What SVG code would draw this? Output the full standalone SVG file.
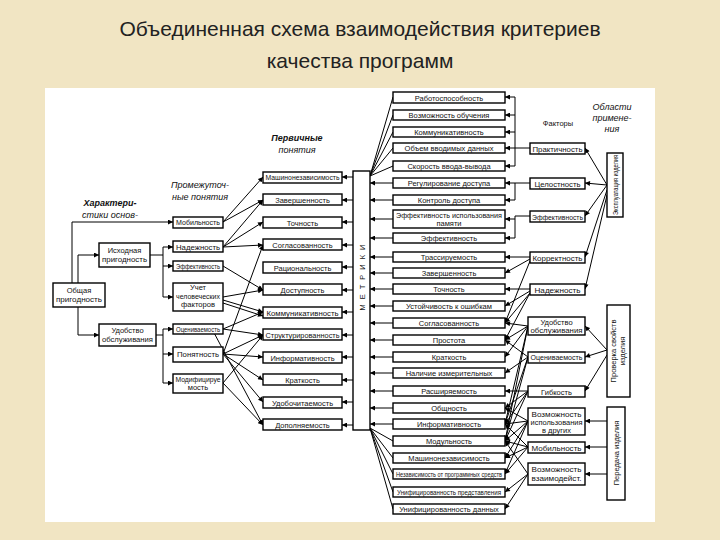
<svg xmlns="http://www.w3.org/2000/svg" width="720" height="540" viewBox="0 0 720 540">
<defs>
<marker id="a" viewBox="0 0 10 10" refX="10" refY="5" markerWidth="6" markerHeight="5" markerUnits="userSpaceOnUse" orient="auto"><path d="M0,0L10,5L0,10z" fill="#000"/></marker>
<style>
.b{fill:#fff;stroke:#000;stroke-width:1.4}
.t{font-family:"Liberation Sans",Arial,sans-serif;font-size:7.5px;fill:#111;text-anchor:middle}
.l{font-family:"Liberation Sans",Arial,sans-serif;font-size:9px;fill:#111;text-anchor:middle;font-style:italic}
#c line,#c polyline{stroke:#000;stroke-width:1;fill:none}
.m{marker-end:url(#a)}
</style>
</defs>
<rect width="720" height="540" fill="#f1e5c3"/>
<rect x="45" y="88" width="610" height="434" fill="#fff"/>
<text x="360" y="36" font-family="Liberation Sans,Arial,sans-serif" font-size="21" text-anchor="middle" fill="#222">Объединенная схема взаимодействия критериев</text>
<text x="360" y="68" font-family="Liberation Sans,Arial,sans-serif" font-size="21" text-anchor="middle" fill="#222">качества программ</text>

<text class="l" x="110" y="206" font-weight="bold">Характери-</text><text class="l" x="110" y="218">стики основ-</text>
<text class="l" x="200" y="188">Промежуточ-</text><text class="l" x="200" y="200">ные понятия</text>
<text class="l" x="297" y="141" font-weight="bold">Первичные</text><text class="l" x="297" y="153">понятия</text>
<text class="t" x="558" y="126" font-size="9">Факторы</text>
<text class="l" x="612" y="110">Области</text><text class="l" x="612" y="121">примене-</text><text class="l" x="612" y="132">ния</text>

<g id="c">
<polyline class="m" points="72,283 72,222 173,222"/>
<polyline class="m" points="78,283 78,255 99,255"/>
<polyline class="m" points="78,307 78,335 99,335"/>
<polyline points="150,255 163,255"/><line x1="163" y1="247" x2="163" y2="297"/>
<line class="m" x1="163" y1="247" x2="173" y2="247"/><line class="m" x1="163" y1="266" x2="173" y2="266"/><line class="m" x1="163" y1="297" x2="173" y2="297"/>
<polyline points="156,335 163,335"/><line x1="163" y1="329" x2="163" y2="383"/>
<line class="m" x1="163" y1="329" x2="173" y2="329"/><line class="m" x1="163" y1="354" x2="173" y2="354"/><line class="m" x1="163" y1="383" x2="173" y2="383"/>
<line class="m" x1="223" y1="222" x2="263" y2="177"/><line class="m" x1="223" y1="222" x2="263" y2="200"/>
<line class="m" x1="223" y1="247" x2="263" y2="200"/><line class="m" x1="223" y1="247" x2="263" y2="222"/><line class="m" x1="223" y1="247" x2="263" y2="245"/>
<line class="m" x1="223" y1="266" x2="263" y2="290"/>
<line class="m" x1="223" y1="297" x2="263" y2="290"/><line class="m" x1="223" y1="300" x2="263" y2="312"/><line class="m" x1="223" y1="303" x2="263" y2="316"/>
<line class="m" x1="223" y1="329" x2="263" y2="312"/><line class="m" x1="223" y1="329" x2="263" y2="335"/>
<line class="m" x1="223" y1="354" x2="263" y2="245"/><line class="m" x1="223" y1="354" x2="263" y2="335"/><line class="m" x1="223" y1="354" x2="263" y2="357"/><line class="m" x1="223" y1="354" x2="263" y2="380"/><line class="m" x1="223" y1="354" x2="263" y2="402"/>
<line class="m" x1="223" y1="383" x2="263" y2="335"/><line class="m" x1="223" y1="383" x2="263" y2="425"/>
<line class="m" x1="212" y1="329" x2="263" y2="425"/>
<line class="m" x1="353" y1="177" x2="342" y2="177"/><line class="m" x1="353" y1="200" x2="342" y2="200"/><line class="m" x1="353" y1="222" x2="342" y2="222"/><line class="m" x1="353" y1="245" x2="342" y2="245"/><line class="m" x1="353" y1="267" x2="342" y2="267"/><line class="m" x1="353" y1="290" x2="342" y2="290"/><line class="m" x1="353" y1="312" x2="342" y2="312"/><line class="m" x1="353" y1="335" x2="342" y2="335"/><line class="m" x1="353" y1="357" x2="342" y2="357"/><line class="m" x1="353" y1="380" x2="342" y2="380"/><line class="m" x1="353" y1="402" x2="342" y2="402"/><line class="m" x1="353" y1="425" x2="342" y2="425"/>
<line x1="370" y1="176" x2="393" y2="97"/><line x1="370" y1="176" x2="393" y2="115"/><line x1="370" y1="176" x2="393" y2="132"/><line x1="370" y1="176" x2="393" y2="148"/><line x1="370" y1="176" x2="393" y2="166"/>
<line class="m" x1="393" y1="183" x2="370" y2="183"/><line class="m" x1="393" y1="200" x2="370" y2="200"/><line class="m" x1="393" y1="219" x2="370" y2="219"/><line class="m" x1="393" y1="238" x2="370" y2="238"/><line class="m" x1="393" y1="257" x2="370" y2="257"/><line class="m" x1="393" y1="273" x2="370" y2="273"/><line class="m" x1="393" y1="289" x2="370" y2="289"/><line class="m" x1="393" y1="306" x2="370" y2="306"/><line class="m" x1="393" y1="323" x2="370" y2="323"/><line class="m" x1="393" y1="340" x2="370" y2="340"/><line class="m" x1="393" y1="357" x2="370" y2="357"/><line class="m" x1="393" y1="373" x2="370" y2="373"/><line class="m" x1="393" y1="391" x2="370" y2="391"/><line class="m" x1="393" y1="408" x2="370" y2="408"/><line class="m" x1="393" y1="424" x2="370" y2="424"/>
<line x1="370" y1="428" x2="393" y2="441"/><line x1="370" y1="428" x2="393" y2="458"/><line x1="370" y1="428" x2="393" y2="474"/><line x1="370" y1="428" x2="393" y2="492"/><line x1="370" y1="428" x2="393" y2="509"/>
<line x1="515" y1="97" x2="515" y2="166"/><line x1="530" y1="148" x2="515" y2="148"/>
<line class="m" x1="515" y1="97" x2="505" y2="97"/><line class="m" x1="515" y1="115" x2="505" y2="115"/><line class="m" x1="515" y1="132" x2="505" y2="132"/><line class="m" x1="515" y1="148" x2="505" y2="148"/><line class="m" x1="515" y1="166" x2="505" y2="166"/>
<line x1="515" y1="183" x2="515" y2="200"/><line x1="530" y1="183" x2="515" y2="183"/><line class="m" x1="515" y1="183" x2="505" y2="183"/><line class="m" x1="515" y1="200" x2="505" y2="200"/>
<line x1="515" y1="216" x2="515" y2="238"/><line x1="530" y1="216" x2="515" y2="216"/><line class="m" x1="515" y1="219" x2="505" y2="219"/><line class="m" x1="515" y1="238" x2="505" y2="238"/>
<line class="m" x1="530" y1="257" x2="505" y2="257"/><line class="m" x1="530" y1="259" x2="505" y2="273"/><line class="m" x1="530" y1="261" x2="505" y2="323"/>
<line class="m" x1="530" y1="289" x2="505" y2="289"/><line class="m" x1="530" y1="291" x2="505" y2="306"/><line class="m" x1="530" y1="293" x2="505" y2="323"/><line class="m" x1="530" y1="293" x2="505" y2="340"/>
<line class="m" x1="528" y1="326" x2="505" y2="323"/><line class="m" x1="528" y1="326" x2="505" y2="340"/><line class="m" x1="528" y1="326" x2="505" y2="357"/><line class="m" x1="528" y1="326" x2="505" y2="424"/><line class="m" x1="528" y1="326" x2="505" y2="441"/>
<line class="m" x1="528" y1="357" x2="505" y2="340"/><line class="m" x1="528" y1="357" x2="505" y2="373"/><line class="m" x1="528" y1="357" x2="505" y2="424"/><line class="m" x1="528" y1="357" x2="505" y2="441"/>
<line class="m" x1="528" y1="391" x2="505" y2="391"/><line class="m" x1="528" y1="391" x2="505" y2="408"/><line class="m" x1="528" y1="391" x2="505" y2="424"/><line class="m" x1="528" y1="391" x2="505" y2="441"/>
<line class="m" x1="528" y1="421" x2="505" y2="408"/><line class="m" x1="528" y1="421" x2="505" y2="424"/><line class="m" x1="528" y1="421" x2="505" y2="441"/><line class="m" x1="528" y1="421" x2="505" y2="458"/><line class="m" x1="528" y1="421" x2="505" y2="474"/>
<line class="m" x1="528" y1="447" x2="505" y2="424"/><line class="m" x1="528" y1="447" x2="505" y2="441"/><line class="m" x1="528" y1="447" x2="505" y2="458"/><line class="m" x1="528" y1="447" x2="505" y2="474"/>
<line class="m" x1="528" y1="474" x2="505" y2="441"/><line class="m" x1="528" y1="474" x2="505" y2="492"/><line class="m" x1="528" y1="474" x2="505" y2="509"/>
<line class="m" x1="607" y1="185" x2="585" y2="148"/><line class="m" x1="607" y1="185" x2="585" y2="183"/><line class="m" x1="607" y1="185" x2="585" y2="216"/><line class="m" x1="607" y1="190" x2="585" y2="257"/><line class="m" x1="607" y1="195" x2="585" y2="289"/>
<line class="m" x1="607" y1="350" x2="585" y2="326"/><line class="m" x1="607" y1="350" x2="585" y2="357"/><line class="m" x1="607" y1="355" x2="585" y2="391"/>
<line class="m" x1="607" y1="421" x2="585" y2="421"/><line class="m" x1="607" y1="447" x2="585" y2="447"/><line class="m" x1="607" y1="474" x2="585" y2="474"/>
</g>

<g id="n-obsh"><rect class="b" x="53" y="283" width="52" height="24"/><text class="t" x="79" y="293">Общая</text><text class="t" x="79" y="302" textLength="46" lengthAdjust="spacingAndGlyphs">пригодность</text></g>
<g id="n-isx"><rect class="b" x="99" y="243" width="51" height="24"/><text class="t" x="124.5" y="253">Исходная</text><text class="t" x="124.5" y="262" textLength="45" lengthAdjust="spacingAndGlyphs">пригодность</text></g>
<g id="n-udob"><rect class="b" x="99" y="324" width="57" height="22"/><text class="t" x="127.5" y="333">Удобство</text><text class="t" x="127.5" y="342" textLength="51" lengthAdjust="spacingAndGlyphs">обслуживания</text></g>

<g id="n-mob"><rect class="b" x="173" y="217" width="50" height="11"/><text class="t" x="198" y="225" textLength="44" lengthAdjust="spacingAndGlyphs">Мобильность</text></g>
<g id="n-nad"><rect class="b" x="173" y="241" width="50" height="11"/><text class="t" x="198" y="249.5" textLength="44" lengthAdjust="spacingAndGlyphs">Надежность</text></g>
<g id="n-eff"><rect class="b" x="173" y="261" width="50" height="10"/><text class="t" x="198" y="268.5" textLength="44" lengthAdjust="spacingAndGlyphs">Эффективность</text></g>
<g id="n-uch"><rect class="b" x="173" y="283" width="50" height="28"/><text class="t" x="198" y="290">Учет</text><text class="t" x="198" y="298.5" textLength="44" lengthAdjust="spacingAndGlyphs">человеческих</text><text class="t" x="198" y="307" textLength="34" lengthAdjust="spacingAndGlyphs">факторов</text></g>
<g id="n-oc"><rect class="b" x="173" y="324" width="50" height="10"/><text class="t" x="198" y="331.5" textLength="44" lengthAdjust="spacingAndGlyphs">Оцениваемость</text></g>
<g id="n-pon"><rect class="b" x="173" y="347" width="50" height="15"/><text class="t" x="198" y="357" textLength="42" lengthAdjust="spacingAndGlyphs">Понятность</text></g>
<g id="n-mod"><rect class="b" x="173" y="374" width="50" height="19"/><text class="t" x="198" y="381.5" textLength="45" lengthAdjust="spacingAndGlyphs">Модифицируе</text><text class="t" x="198" y="390">мость</text></g>

<g id="n-p1"><rect class="b" x="263" y="172" width="79" height="11"/><text class="t" x="302.5" y="180" textLength="74" lengthAdjust="spacingAndGlyphs">Машинонезависимость</text></g>
<g id="n-p2"><rect class="b" x="263" y="194" width="79" height="11"/><text class="t" x="302.5" y="202.5">Завершенность</text></g>
<g id="n-p3"><rect class="b" x="263" y="217" width="79" height="11"/><text class="t" x="302.5" y="225.5">Точность</text></g>
<g id="n-p4"><rect class="b" x="263" y="239" width="79" height="11"/><text class="t" x="302.5" y="247.5">Согласованность</text></g>
<g id="n-p5"><rect class="b" x="263" y="262" width="79" height="11"/><text class="t" x="302.5" y="270.5">Рациональность</text></g>
<g id="n-p6"><rect class="b" x="263" y="284" width="79" height="11"/><text class="t" x="302.5" y="292.5">Доступность</text></g>
<g id="n-p7"><rect class="b" x="263" y="307" width="79" height="11"/><text class="t" x="302.5" y="315.5" textLength="72" lengthAdjust="spacingAndGlyphs">Коммуникативность</text></g>
<g id="n-p8"><rect class="b" x="263" y="329" width="79" height="11"/><text class="t" x="302.5" y="337.5" textLength="74" lengthAdjust="spacingAndGlyphs">Структурированность</text></g>
<g id="n-p9"><rect class="b" x="263" y="352" width="79" height="11"/><text class="t" x="302.5" y="360.5">Информативность</text></g>
<g id="n-p10"><rect class="b" x="263" y="374" width="79" height="11"/><text class="t" x="302.5" y="382.5">Краткость</text></g>
<g id="n-p11"><rect class="b" x="263" y="397" width="79" height="11"/><text class="t" x="302.5" y="405.5">Удобочитаемость</text></g>
<g id="n-p12"><rect class="b" x="263" y="419" width="79" height="11"/><text class="t" x="302.5" y="427.5">Дополняемость</text></g>

<g id="n-metr"><rect class="b" x="353" y="171" width="17" height="259"/><text class="t" transform="translate(365,275) rotate(-90)" font-size="9" letter-spacing="5">МЕТРИКИ</text></g>

<g id="n-m1"><rect class="b" x="393" y="92" width="112" height="11"/><text class="t" x="449" y="100.5">Работоспособность</text></g>
<g id="n-m2"><rect class="b" x="393" y="110" width="112" height="10"/><text class="t" x="449" y="117.5">Возможность обучения</text></g>
<g id="n-m3"><rect class="b" x="393" y="127" width="112" height="10"/><text class="t" x="449" y="134.5">Коммуникативность</text></g>
<g id="n-m4"><rect class="b" x="393" y="143" width="112" height="10"/><text class="t" x="449" y="150.5">Объем вводимых данных</text></g>
<g id="n-m5"><rect class="b" x="393" y="161" width="112" height="10"/><text class="t" x="449" y="168.5">Скорость ввода-вывода</text></g>
<g id="n-m6"><rect class="b" x="393" y="178" width="112" height="10"/><text class="t" x="449" y="185.5">Регулирование доступа</text></g>
<g id="n-m7"><rect class="b" x="393" y="195" width="112" height="10"/><text class="t" x="449" y="202.5">Контроль доступа</text></g>
<g id="n-m8"><rect class="b" x="393" y="210" width="112" height="18"/><text class="t" x="449" y="217.5" textLength="106" lengthAdjust="spacingAndGlyphs">Эффективность использования</text><text class="t" x="449" y="225.5">памяти</text></g>
<g id="n-m9"><rect class="b" x="393" y="233" width="112" height="10"/><text class="t" x="449" y="240.5">Эффективность</text></g>
<g id="n-m10"><rect class="b" x="393" y="252" width="112" height="10"/><text class="t" x="449" y="259.5">Трассируемость</text></g>
<g id="n-m11"><rect class="b" x="393" y="268" width="112" height="10"/><text class="t" x="449" y="275.5">Завершенность</text></g>
<g id="n-m12"><rect class="b" x="393" y="284" width="112" height="10"/><text class="t" x="449" y="291.5">Точность</text></g>
<g id="n-m13"><rect class="b" x="393" y="301" width="112" height="10"/><text class="t" x="449" y="308.5">Устойчивость к ошибкам</text></g>
<g id="n-m14"><rect class="b" x="393" y="318" width="112" height="10"/><text class="t" x="449" y="325.5">Согласованность</text></g>
<g id="n-m15"><rect class="b" x="393" y="335" width="112" height="10"/><text class="t" x="449" y="342.5">Простота</text></g>
<g id="n-m16"><rect class="b" x="393" y="352" width="112" height="10"/><text class="t" x="449" y="359.5">Краткость</text></g>
<g id="n-m17"><rect class="b" x="393" y="368" width="112" height="10"/><text class="t" x="449" y="375.5">Наличие измерительных</text></g>
<g id="n-m18"><rect class="b" x="393" y="386" width="112" height="10"/><text class="t" x="449" y="393.5">Расширяемость</text></g>
<g id="n-m19"><rect class="b" x="393" y="403" width="112" height="10"/><text class="t" x="449" y="410.5">Общность</text></g>
<g id="n-m20"><rect class="b" x="393" y="419" width="112" height="10"/><text class="t" x="449" y="426.5">Информативность</text></g>
<g id="n-m21"><rect class="b" x="393" y="436" width="112" height="10"/><text class="t" x="449" y="443.5">Модульность</text></g>
<g id="n-m22"><rect class="b" x="393" y="453" width="112" height="10"/><text class="t" x="449" y="460.5">Машинонезависимость</text></g>
<g id="n-m23"><rect class="b" x="393" y="469" width="112" height="10"/><text class="t" x="449" y="476.5" textLength="106" lengthAdjust="spacingAndGlyphs">Независимость от программных средств</text></g>
<g id="n-m24"><rect class="b" x="393" y="487" width="112" height="10"/><text class="t" x="449" y="494.5" textLength="104" lengthAdjust="spacingAndGlyphs">Унифицированность представления</text></g>
<g id="n-m25"><rect class="b" x="393" y="504" width="112" height="10"/><text class="t" x="449" y="511.5">Унифицированность данных</text></g>

<g id="n-f1"><rect class="b" x="530" y="143" width="55" height="11"/><text class="t" x="557.5" y="151.5" textLength="50" lengthAdjust="spacingAndGlyphs">Практичность</text></g>
<g id="n-f2"><rect class="b" x="530" y="178" width="55" height="11"/><text class="t" x="557.5" y="186.5" textLength="46" lengthAdjust="spacingAndGlyphs">Целостность</text></g>
<g id="n-f3"><rect class="b" x="530" y="211" width="55" height="11"/><text class="t" x="557.5" y="219.5" textLength="51" lengthAdjust="spacingAndGlyphs">Эффективность</text></g>
<g id="n-f4"><rect class="b" x="530" y="252" width="55" height="11"/><text class="t" x="557.5" y="260.5" textLength="50" lengthAdjust="spacingAndGlyphs">Корректность</text></g>
<g id="n-f5"><rect class="b" x="530" y="284" width="55" height="11"/><text class="t" x="557.5" y="292.5" textLength="46" lengthAdjust="spacingAndGlyphs">Надежность</text></g>
<g id="n-f6"><rect class="b" x="528" y="317" width="57" height="18"/><text class="t" x="556.5" y="324.5">Удобство</text><text class="t" x="556.5" y="332.5" textLength="52" lengthAdjust="spacingAndGlyphs">обслуживания</text></g>
<g id="n-f7"><rect class="b" x="528" y="352" width="57" height="11"/><text class="t" x="556.5" y="360" textLength="52" lengthAdjust="spacingAndGlyphs">Оцениваемость</text></g>
<g id="n-f8"><rect class="b" x="528" y="386" width="57" height="11"/><text class="t" x="556.5" y="394.5">Гибкость</text></g>
<g id="n-f9"><rect class="b" x="528" y="408" width="57" height="27"/><text class="t" x="556.5" y="416.5" textLength="50" lengthAdjust="spacingAndGlyphs">Возможность</text><text class="t" x="556.5" y="424.5" textLength="52" lengthAdjust="spacingAndGlyphs">использования</text><text class="t" x="556.5" y="432.5">в других</text></g>
<g id="n-f10"><rect class="b" x="528" y="442" width="57" height="11"/><text class="t" x="556.5" y="450.5" textLength="50" lengthAdjust="spacingAndGlyphs">Мобильность</text></g>
<g id="n-f11"><rect class="b" x="528" y="463" width="57" height="22"/><text class="t" x="556.5" y="472" textLength="50" lengthAdjust="spacingAndGlyphs">Возможность</text><text class="t" x="556.5" y="481" textLength="50" lengthAdjust="spacingAndGlyphs">взаимодейст.</text></g>

<g id="n-a1"><rect class="b" x="607" y="153" width="16" height="64"/><text class="t" transform="translate(618,185) rotate(-90)" textLength="60" lengthAdjust="spacingAndGlyphs">Эксплуатация изделия</text></g>
<g id="n-a2"><rect class="b" x="607" y="305" width="23" height="92"/><text class="t" transform="translate(616,351) rotate(-90)">Проверка свойств</text><text class="t" transform="translate(625,351) rotate(-90)">изделия</text></g>
<g id="n-a3"><rect class="b" x="607" y="407" width="18" height="93"/><text class="t" transform="translate(619,453) rotate(-90)">Передача изделия</text></g>
</svg>
